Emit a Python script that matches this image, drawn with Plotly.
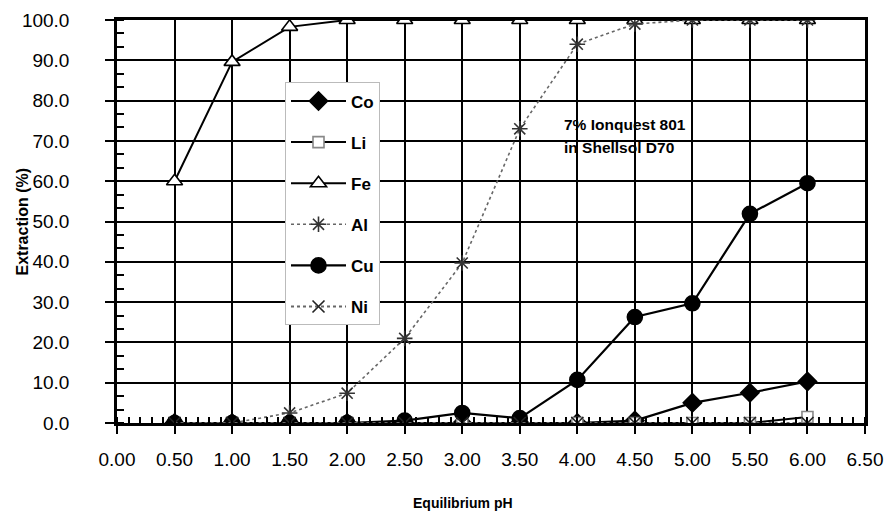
import plotly.graph_objects as go

# ---- data ----
ph = [0.5, 1.0, 1.5, 2.0, 2.5, 3.0, 3.5, 4.0, 4.5, 5.0, 5.5, 6.0]
co = [0, 0, 0, 0, 0, 0, 0, 0, 0.6, 5.0, 7.5, 10.3]
li = [0, 0, 0, 0, 0, 0, 0, 0, 0, 0, 0, 1.5]
fe = [60.0, 89.6, 98.3, 100, 100, 100, 100, 100, 100, 100, 100, 100]
al = [0, 0, 2.5, 7.4, 21.0, 39.7, 73.0, 94.0, 99.0, 100, 100, 100]
cu = [0, 0, 0, 0, 0.6, 2.5, 1.2, 10.7, 26.3, 29.7, 51.9, 59.5]
ni = [0, 0, 0, 0, 0, 0, 0, 0, 0, 0, 0, 0]

x_ticks = [0.0, 0.5, 1.0, 1.5, 2.0, 2.5, 3.0, 3.5, 4.0, 4.5, 5.0, 5.5, 6.0, 6.5]
y_ticks = [0, 10, 20, 30, 40, 50, 60, 70, 80, 90, 100]

FONT = "Liberation Sans, Arial, sans-serif"

fig = go.Figure()

def add(name, y, symbol, msize, mcolor, mline, lcolor, lwidth, dash, group):
    fig.add_trace(go.Scatter(
        x=ph, y=y, name=name, mode="lines+markers", legendgroup=group,
        line=dict(color=lcolor, width=lwidth, dash=dash),
        marker=dict(symbol=symbol, size=msize, color=mcolor,
                    line=dict(color=mline, width=1.6)),
    ))

add("Co", co, "diamond", 14, "black", "black", "black", 2.2, "solid", "g1")
add("Li", li, "square", 11, "white", "#888888", "black", 2.0, "solid", "g2")
add("Fe", fe, "triangle-up", 14, "white", "black", "black", 2.0, "solid", "g3")
add("Al", al, "asterisk-open", 13, "#333333", "#333333", "#666666", 1.6, "dot", "g4")
add("Cu", cu, "circle", 15, "black", "black", "black", 2.2, "solid", "g5")
add("Ni", ni, "x-thin-open", 12, "#222222", "#222222", "#666666", 2.0, "dot", "g6")

# the page body has an 8px margin, so the figure is 8px smaller and margins shifted
fig.update_layout(
    width=884, height=506,
    margin=dict(l=109, r=27, t=12, b=91),
    paper_bgcolor="white", plot_bgcolor="white",
    font=dict(family=FONT, color="black"),
    showlegend=True,
    legend=dict(
        x=0.2246, y=0.845, xanchor="left", yanchor="top",
        bgcolor="white", bordercolor="#bbbbbb", borderwidth=1,
        font=dict(size=17, family=FONT, color="black", weight="bold"),
        tracegroupgap=16, traceorder="grouped",
        itemwidth=55,
    ),
    xaxis=dict(
        range=[0, 6.5], tickvals=x_ticks, tickformat=".2f",
        showgrid=True, gridcolor="black", gridwidth=2,
        showline=True, linecolor="black", linewidth=2.5, mirror=True,
        ticks="outside", ticklen=8, tickwidth=2, tickcolor="black",
        tickfont=dict(size=19, family=FONT, color="black"),
        ticklabelstandoff=9, automargin=False, ticklabeloverflow="allow",
        zeroline=False,
        minor=dict(dtick=0.1, tick0=0, ticks="inside", ticklen=6, tickwidth=2,
                   tickcolor="black", showgrid=False),
    ),
    yaxis=dict(
        range=[0, 100], tickvals=y_ticks, tickformat=".1f",
        showgrid=True, gridcolor="black", gridwidth=2,
        showline=True, linecolor="black", linewidth=2.5, mirror=True,
        ticks="outside", ticklen=9, tickwidth=2, tickcolor="black",
        tickfont=dict(size=19, family=FONT, color="black"),
        ticklabelstandoff=32, automargin=False, ticklabeloverflow="allow",
        zeroline=False,
        minor=dict(dtick=10/3, tick0=0, ticks="inside", ticklen=7, tickwidth=2,
                   tickcolor="black", showgrid=False),
    ),
)

fig.add_annotation(text="<b>Extraction (%)</b>", xref="paper", yref="paper",
                   x=-0.127, y=0.5, textangle=-90, showarrow=False,
                   font=dict(size=16, family=FONT, color="black"),
                   xanchor="center", yanchor="middle")
fig.add_annotation(text="<b>Equilibrium pH</b>", xref="paper", yref="paper",
                   x=0.462, y=-0.198, showarrow=False,
                   font=dict(size=14, family=FONT, color="black"),
                   xanchor="center", yanchor="middle")
fig.add_annotation(text="<b>7% Ionquest 801</b>", xref="x", yref="y",
                   x=3.87, y=74.0, showarrow=False, xanchor="left", yanchor="middle",
                   font=dict(size=15.5, family=FONT, color="black"))
fig.add_annotation(text="<b>in Shellsol D70</b>", xref="x", yref="y",
                   x=3.87, y=68.4, showarrow=False, xanchor="left", yanchor="middle",
                   font=dict(size=15.5, family=FONT, color="black"))

fig.write_html("out.html")
